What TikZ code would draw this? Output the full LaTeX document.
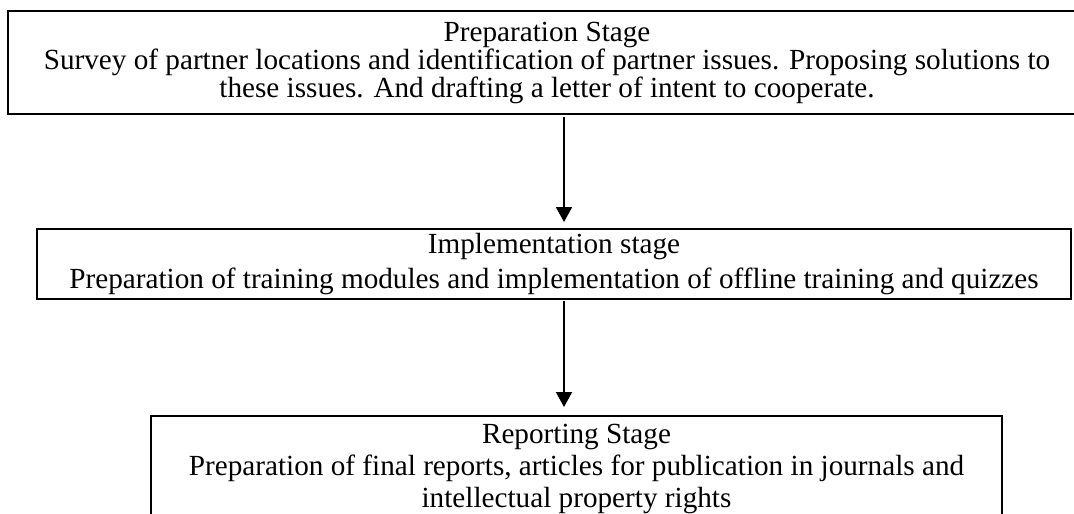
\documentclass[tikz,border=0pt]{standalone}
\usepackage{fontspec}
\setmainfont{Liberation Serif}
\usetikzlibrary{arrows.meta}

\begin{document}
\begin{tikzpicture}[x=0.5pt, y=-0.5pt,
  stagebox/.style={draw, line width=1pt, align=center, inner sep=0pt},
  flowarrow/.style={-{Triangle[width=8pt, length=7.5pt]}, line width=1pt}]

  \useasboundingbox (0, 0) rectangle (1074, 513);

  \coordinate (ax) at (564, 0);

  \node[stagebox, minimum width=539pt, minimum height=51.5pt,
        font=\fontsize{14.6}{14}\selectfont] (prep) at (547, 62.5)
    {Preparation Stage\\
     Survey of partner locations and identification of partner issues. Proposing solutions to\\
     these issues. And drafting a letter of intent to cooperate.};

  \node[stagebox, minimum width=517pt, minimum height=35pt,
        font=\fontsize{14.6}{17.5}\selectfont] (impl) at (554, 264)
    {Implementation stage\\
     Preparation of training modules and implementation of offline training and quizzes};

  \node[stagebox, minimum width=425.5pt, minimum height=53pt,
        font=\fontsize{14.6}{16}\selectfont] (report) at (576.5, 469)
    {Reporting Stage\\
     Preparation of final reports, articles for publication in journals and\\
     intellectual property rights};

  \draw[flowarrow, shorten <=1pt, shorten >=3pt] (prep.south -| ax) -- (impl.north -| ax);
  \draw[flowarrow, shorten <=0.5pt, shorten >=4pt] (impl.south -| ax) -- (report.north -| ax);

\end{tikzpicture}
\end{document}
